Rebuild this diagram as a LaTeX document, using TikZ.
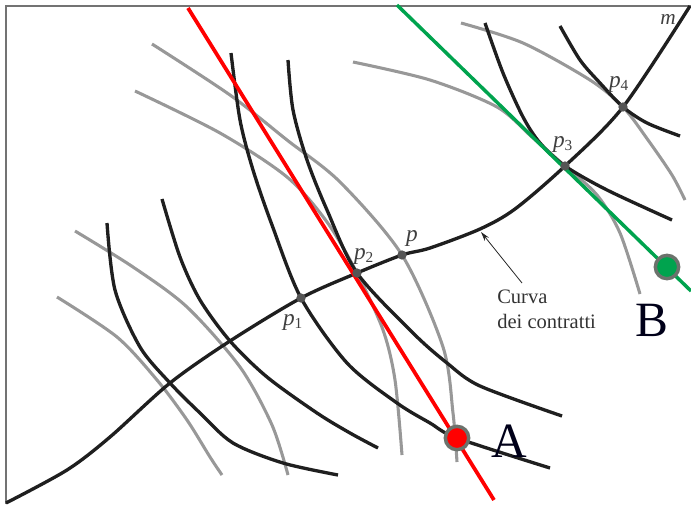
\documentclass[tikz,border=0pt]{standalone}
\usepackage{fontspec}
\setmainfont{Liberation Serif}
\usetikzlibrary{arrows.meta}

\definecolor{curvegray}{RGB}{152,152,152}
\definecolor{dotgray}{RGB}{85,85,85}
\definecolor{rimgray}{RGB}{108,114,108}
\definecolor{pricegreen}{RGB}{0,163,78}

\tikzset{
  boxline/.style={draw=black!55, line width=1.2pt},
  grayic/.style={draw=curvegray, line width=2.3pt},
  blackic/.style={draw=black!88, line width=2.5pt},
  contractln/.style={draw=black!88, line width=2.5pt},
  redln/.style={draw=red, line width=2.8pt},
  greenln/.style={draw=pricegreen, line width=2.6pt},
  dotpt/.style={circle, fill=dotgray, inner sep=0pt, minimum size=7pt},
  endow/.style={circle, draw=rimgray, line width=2.6pt, inner sep=0pt, minimum size=17.5pt},
  plabel/.style={text=black!75, inner sep=0pt, font=\fontsize{17.5}{17.5}\selectfont\itshape},
  biglabel/.style={text=black!90!blue, inner sep=0pt, font=\fontsize{37}{37}\selectfont},
  arrowln/.style={draw=black!85, line width=0.6pt, -{Stealth[length=7pt, width=4pt]}}
}

\newcommand{\psub}[1]{p\textsubscript{\upshape\fontsize{11.5}{11.5}\selectfont #1}}

\begin{document}
\begin{tikzpicture}[x=0.75pt, y=-0.75pt]
  \useasboundingbox (0,0) rectangle (691,504);

  % frame of the box
  \draw[boxline] (6,504) -- (6,6) -- (691,6);

  % indifference curves, consumer with origin top right
  \draw[grayic] plot[smooth] coordinates {(57,297) (117,337) (157,380) (187,420) (210,457) (222,475)};
  \draw[grayic] plot[smooth] coordinates {(75,231) (133,267) (187,307) (240,367) (272,425) (288,475)};
  \draw[grayic] plot[smooth] coordinates {(135,91) (220,133) (287,177) (327,222) (357,273) (383,330) (395,380) (402,455)};
  \draw[grayic] plot[smooth] coordinates {(152,44) (230,95) (287,140) (340,182) (402,255) (443,347) (453,413) (457,462)};
  \draw[grayic] plot[smooth] coordinates {(353,62) (430,80) (497,107) (533,138) (565,166) (597,195) (620,233) (640,294)};
  \draw[grayic] plot[smooth] coordinates {(461,23) (523,43) (590,80) (623,107) (648,140) (672,175) (685,200)};

  % indifference curves, consumer with origin bottom left
  \draw[blackic] plot[smooth] coordinates {(107,223) (115,290) (140,347) (170,383) (200,413) (233,443) (283,463) (338,475)};
  \draw[blackic] plot[smooth] coordinates {(162,199) (180,257) (200,300) (230,341) (267,377) (317,413) (350,433) (378,448)};
  \draw[blackic] plot[smooth] coordinates {(231,53) (240,120) (253,170) (272,225) (301,298) (347,363) (397,403) (430,423) (457,438) (550,468)};
  \draw[blackic] plot[smooth] coordinates {(288,60) (293,110) (307,160) (327,210) (357,273) (413,333) (447,363) (480,386) (562,416)};
  \draw[blackic] plot[smooth] coordinates {(485,23) (503,73) (523,117) (540,143) (565,166) (607,190) (672,220)};
  \draw[blackic] plot[smooth] coordinates {(560,26) (580,60) (600,83) (623,107) (647,123) (680,136)};

  % contract curve
  \draw[contractln] plot[smooth] coordinates {(6,503) (67,470) (110,437) (170,383) (230,341) (301,298) (357,273) (402,255) (430,248) (480,229) (515,209) (565,166) (623,107) (690,6)};

  % price lines
  \coordinate (redtop) at (188,8);
  \coordinate (redbot) at (494,500);
  \coordinate (greentop) at (397,5);
  \coordinate (greenbot) at (691,291);
  \draw[redln] (redtop) -- (redbot);
  \draw[greenln] (greentop) -- (greenbot);

  % points on the contract curve
  \node[dotpt] (p1) at (301,298) {};
  \node[dotpt] (p2) at (357,273) {};
  \node[dotpt] (p) at (402,255) {};
  \node[dotpt] (p3) at (565,166) {};
  \node[dotpt] (p4) at (623,107) {};

  \node[plabel] (lp1) at (293,322) {\psub{1}};
  \node[plabel] (lp2) at (364,256) {\psub{2}};
  \node[plabel] (lp) at (412,238) {p};
  \node[plabel] (lp3) at (563,144) {\psub{3}};
  \node[plabel] (lp4) at (619,84) {\psub{4}};
  \node[plabel, font=\fontsize{16}{16}\selectfont\itshape] (lm) at (668,19) {m};

  % endowments
  \node[endow, fill=red] (A) at (457,438) {};
  \node[endow, fill=pricegreen] (B) at (667,267) {};
  \node[biglabel] (lA) at (509,441) {A};
  \node[biglabel] (lB) at (652,320) {B};

  % label of the contract curve
  \node[anchor=west, align=left, inner sep=0pt, text=black!80,
        font=\fontsize{15.4}{18.8}\selectfont] (cc) at (497,309) {Curva\\dei contratti};
  \coordinate (arrtail) at (522,283);
  \coordinate (arrtip) at (481,232);
  \draw[arrowln] (arrtail) -- (arrtip);
\end{tikzpicture}
\end{document}
